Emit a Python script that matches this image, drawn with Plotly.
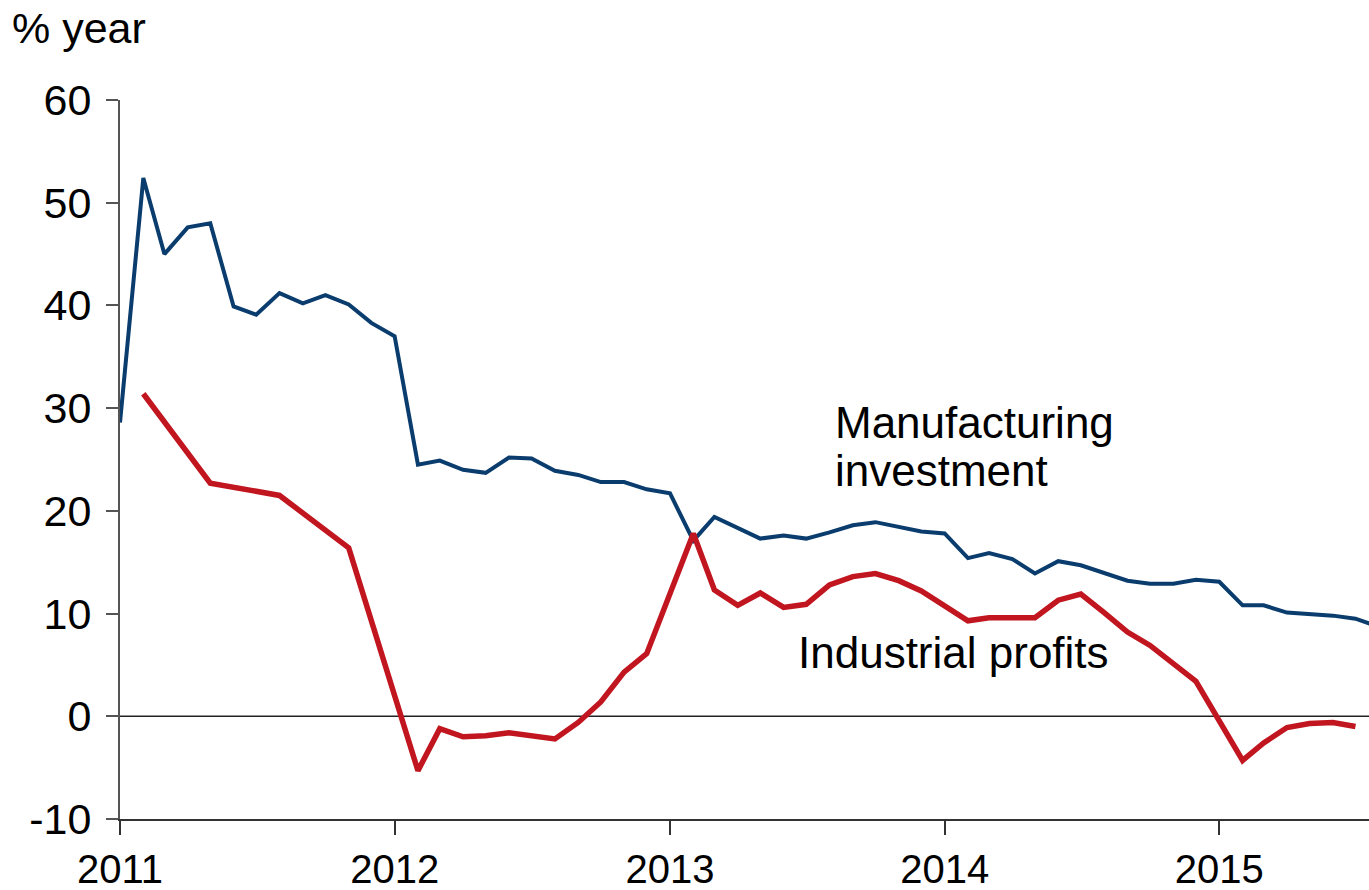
import plotly.graph_objects as go
import pandas as pd

months = pd.date_range("2011-01-01", "2015-08-01", freq="MS")

manufacturing_investment = [
    28.6, 52.4, 45.0, 47.6, 48.0, 39.9, 39.1, 41.2, 40.2, 41.0, 40.1, 38.3,
    37.0, 24.5, 24.9, 24.0, 23.7, 25.2, 25.1, 23.9, 23.5, 22.8, 22.8, 22.1,
    21.7, 17.1, 19.4, 18.3, 17.3, 17.6, 17.3, 17.9, 18.6, 18.9, 18.4, 18.0,
    17.8, 15.4, 15.9, 15.3, 13.9, 15.1, 14.7, 14.0, 13.2, 12.9, 12.9, 13.3,
    13.1, 10.8, 10.8, 10.1, 10.0, 9.8, 9.5, 8.7,
]

industrial_profits = [
    None, 31.4, None, None, 22.7, None, None, 21.5, None, None, 16.4, None,
    None, -5.3, -1.2, -2.0, -1.9, -1.6, -1.9, -2.2, -0.6, 1.4, 4.3, 6.1,
    None, 17.8, 12.3, 10.8, 12.0, 10.6, 10.9, 12.8, 13.6, 13.9, 13.2, 12.2,
    None, 9.3, 9.6, 9.6, 9.6, 11.3, 11.9, 10.1, 8.2, 6.9, 5.2, 3.4,
    None, -4.3, -2.6, -1.1, -0.7, -0.6, -1.0,
]

y_ticks = [-10, 0, 10, 20, 30, 40, 50, 60]
y_tick_labels = ["-10", "0", "10", "20", "30", "40", "50", "60"]
x_tick_years = ["2011-01-01", "2012-01-01", "2013-01-01", "2014-01-01", "2015-01-01"]
x_tick_labels = ["2011", "2012", "2013", "2014", "2015"]

BLUE = "#0A3D6E"
RED = "#C1161F"
FONT = "Liberation Sans, Arial, sans-serif"

fig = go.Figure()

fig.add_trace(go.Scatter(
    x=months[:len(manufacturing_investment)], y=manufacturing_investment,
    mode="lines", line=dict(color=BLUE, width=4), name="Manufacturing investment",
))
fig.add_trace(go.Scatter(
    x=months[:len(industrial_profits)], y=industrial_profits,
    mode="lines", line=dict(color=RED, width=5.5), connectgaps=True,
    name="Industrial profits",
))

# zero line
fig.add_shape(type="line", xref="x domain", yref="y", x0=0, x1=1, y0=0, y1=0,
              line=dict(color="#222222", width=1.5), layer="below")

fig.update_layout(
    width=1369, height=890,
    margin=dict(l=120, r=0, t=100, b=71),
    paper_bgcolor="white", plot_bgcolor="white",
    showlegend=False,
    font=dict(family=FONT, size=43, color="black"),
    xaxis=dict(
        type="date", automargin=False,
        range=["2011-01-01", "2015-07-19"],
        tickmode="array", tickvals=x_tick_years, ticktext=x_tick_labels,
        ticks="outside", ticklen=14, tickwidth=1.5, tickcolor="#333333",
        showline=True, linecolor="#333333", linewidth=2,
        showgrid=False, zeroline=False,
        tickfont=dict(family=FONT, size=40, color="black"),
        ticklabelstandoff=0,
    ),
    yaxis=dict(
        range=[-10, 60], automargin=False,
        tickmode="array", tickvals=y_ticks, ticktext=y_tick_labels,
        ticks="outside", ticklen=12, tickwidth=1.5, tickcolor="#555555",
        showline=True, linecolor="#555555", linewidth=2,
        showgrid=False, zeroline=False,
        tickfont=dict(family=FONT, size=43, color="black"),
        ticklabelstandoff=6,
    ),
    annotations=[
        dict(text="% year", xref="paper", yref="paper", x=-0.088, y=1.1,
             xanchor="left", yanchor="middle", showarrow=False,
             font=dict(family=FONT, size=43, color="black")),
        dict(text="Manufacturing", xref="x", yref="y", x="2013-08-05", y=28.6,
             xanchor="left", yanchor="middle", showarrow=False,
             font=dict(family=FONT, size=44, color="black")),
        dict(text="investment", xref="x", yref="y", x="2013-08-05", y=23.9,
             xanchor="left", yanchor="middle", showarrow=False,
             font=dict(family=FONT, size=44, color="black")),
        dict(text="Industrial profits", xref="x", yref="y", x="2013-06-18", y=6.2,
             xanchor="left", yanchor="middle", showarrow=False,
             font=dict(family=FONT, size=44, color="black")),
    ],
)

fig.write_html(
    "out.html",
    config={"displayModeBar": False},
    post_script="document.body.style.margin='0';document.body.style.overflow='hidden';",
)
